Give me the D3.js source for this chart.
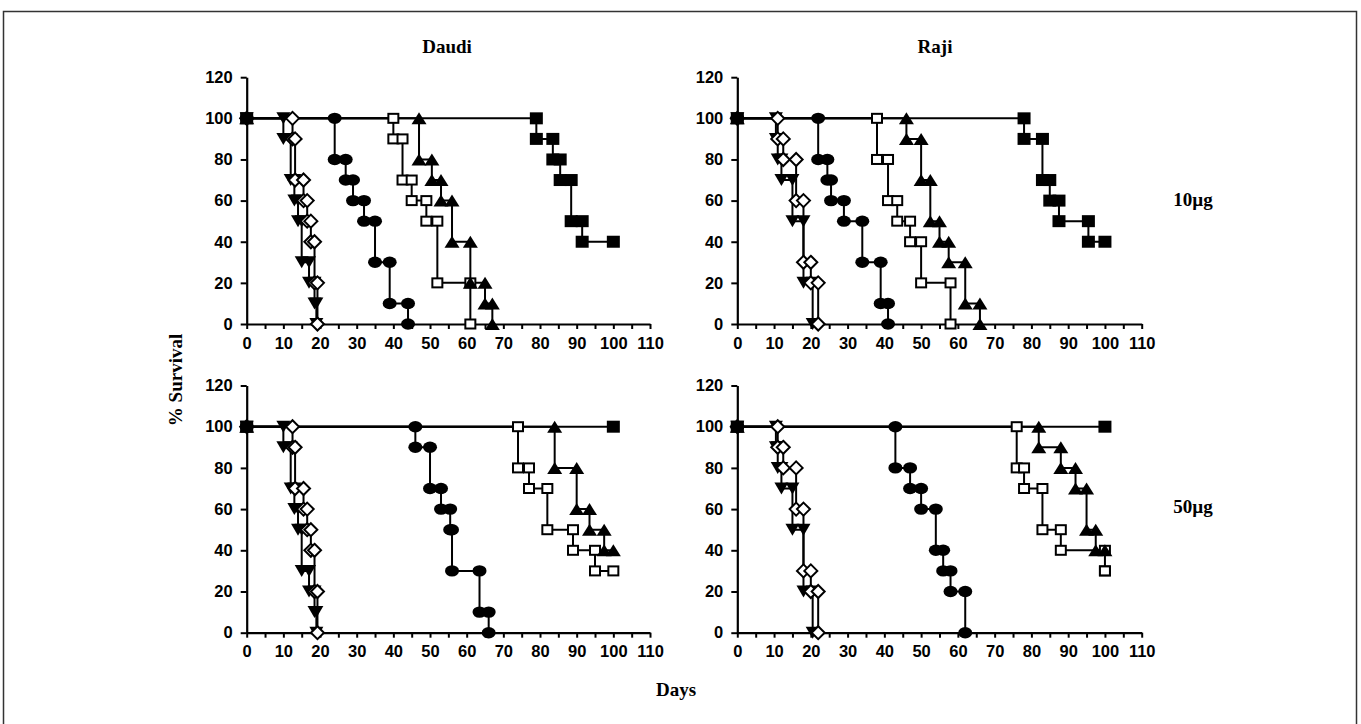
<!DOCTYPE html>
<html>
<head>
<meta charset="utf-8">
<script src="https://cdn.jsdelivr.net/npm/d3@7"></script>
<style>
  body { margin: 0; background: #fff; }
  .tick text { font-family: Arial, "Liberation Sans", sans-serif; font-weight: bold; font-size: 16.5px; fill: #000; }
  .lbl { font-family: "Times New Roman", "Liberation Serif", serif; font-weight: bold; font-size: 19px; fill: #000; }
</style>
</head>
<body>
<div id="chart"></div>
<script>
// ── DATA ────────────────────────────────────────────────────────────────
// each series: Kaplan-Meier steps as [day, % survival after the step]
const panelTitles = ["Daudi", "Raji"];
const doseLabels  = ["10µg", "50µg"];
const xTickValues = [0, 5, 10, 15, 20, 25, 30, 35, 40, 45, 50, 55, 60, 65, 70, 75, 80, 85, 90, 95, 100, 105, 110];
const xTickLabels = [0, 10, 20, 30, 40, 50, 60, 70, 80, 90, 100, 110];
const yTickLabels = [0, 20, 40, 60, 80, 100, 120];
const studyEnd = 100;

const daudi10DownTri  = [[10, 90], [12, 70], [13, 60], [14, 50], [15, 30], [17, 20], [18.5, 10], [19, 0]];
const daudi10Diamond  = [[12.5, 90], [13.2, 70], [15.5, 60], [16.5, 50], [17.5, 40], [18.5, 20], [19.3, 0]];
const daudi10Circle   = [[24, 80], [27, 70], [29, 60], [32, 50], [35, 30], [39, 10], [44, 0]];
const daudi10OpenSq   = [[40, 90], [42.5, 70], [45, 60], [49, 50], [52, 20], [61, 0]];
const daudi10UpTri    = [[47, 80], [50.5, 70], [53, 60], [56, 40], [61, 20], [65, 10], [67, 0]];
const daudi10FilledSq = [[79, 90], [83.5, 80], [85.5, 70], [88.5, 50], [91.5, 40]];

const raji10DownTri  = [[10.5, 90], [11, 80], [12, 70], [15, 50], [18, 20], [20.5, 0]];
const raji10Diamond  = [[11, 90], [12.5, 80], [16, 60], [18, 30], [20, 20], [22, 0]];
const raji10Circle   = [[22, 80], [24.5, 70], [25.5, 60], [29, 50], [34, 30], [39, 10], [41, 0]];
const raji10OpenSq   = [[38, 80], [41, 60], [43.5, 50], [47, 40], [50, 20], [58, 0]];
const raji10UpTri    = [[46, 90], [50, 70], [52.5, 50], [55, 40], [57.5, 30], [62, 10], [66, 0]];
const raji10FilledSq = [[78, 90], [83, 70], [85, 60], [87.5, 50], [95.5, 40]];

const daudi50DownTri  = [[10, 90], [12, 70], [13, 60], [14, 50], [15, 30], [17, 20], [18.5, 10], [19, 0]];
const daudi50Diamond  = [[12.5, 90], [13.2, 70], [15.5, 60], [16.5, 50], [17.5, 40], [18.5, 20], [19.3, 0]];
const daudi50Circle   = [[46, 90], [50, 70], [53, 60], [55.5, 50], [56, 30], [63.5, 10], [66, 0]];
const daudi50OpenSq   = [[74, 80], [77, 70], [82, 50], [89, 40], [95, 30]];
const daudi50UpTri    = [[84, 80], [90, 60], [93.5, 50], [97.5, 40]];
const daudi50FilledSq = [];

const raji50DownTri  = [[10.5, 90], [11, 80], [12, 70], [15, 50], [18, 20], [20.5, 0]];
const raji50Diamond  = [[11, 90], [12.5, 80], [16, 60], [18, 30], [20, 20], [22, 0]];
const raji50Circle   = [[43, 80], [47, 70], [50, 60], [54, 40], [56, 30], [58, 20], [62, 0]];
const raji50OpenSq   = [[76, 80], [78, 70], [83, 50], [88, 40], [100, 30]];
const raji50UpTri    = [[82, 90], [88, 80], [92, 70], [95, 50], [97.5, 40]];
const raji50FilledSq = [];

// ── LAYOUT ──────────────────────────────────────────────────────────────
const width = 1361, height = 724;
const xRanges = [[246.7, 650], [737.3, 1141.7]];
const yRanges = [[324, 77.2], [632.7, 385.5]];

const panels = [
  { col: 0, row: 0, series: [daudi10DownTri, daudi10Diamond, daudi10OpenSq, daudi10UpTri, daudi10FilledSq, daudi10Circle] },
  { col: 1, row: 0, series: [raji10DownTri, raji10Diamond, raji10OpenSq, raji10UpTri, raji10FilledSq, raji10Circle] },
  { col: 0, row: 1, series: [daudi50DownTri, daudi50Diamond, daudi50OpenSq, daudi50UpTri, daudi50FilledSq, daudi50Circle] },
  { col: 1, row: 1, series: [raji50DownTri, raji50Diamond, raji50OpenSq, raji50UpTri, raji50FilledSq, raji50Circle] }
];

// marker shapes, same order as panel.series
const markers = [
  g => g.append("path").attr("d", "M-7,-6L7,-6L0,6Z").attr("fill", "#000"),
  g => g.append("path").attr("d", "M0,-6.5L6.5,0L0,6.5L-6.5,0Z").attr("fill", "#fff").attr("stroke", "#000").attr("stroke-width", 2),
  g => g.append("rect").attr("x", -5).attr("y", -4.5).attr("width", 10).attr("height", 9).attr("fill", "#fff").attr("stroke", "#000").attr("stroke-width", 2),
  g => g.append("path").attr("d", "M-7.5,6L7.5,6L0,-6Z").attr("fill", "#000"),
  g => g.append("rect").attr("x", -6.5).attr("y", -6).attr("width", 13).attr("height", 12).attr("fill", "#000"),
  g => g.append("ellipse").attr("rx", 7).attr("ry", 5.7).attr("fill", "#000")
];

const svg = d3.select("#chart").append("svg")
  .attr("width", width).attr("height", height);

svg.append("rect")
  .attr("x", 3.5).attr("y", 11.5).attr("width", 1353).attr("height", 740)
  .attr("fill", "none").attr("stroke", "#333").attr("stroke-width", 1.5);

function kmPoints(events) {
  const pts = [[0, 100]];
  let prev = 100;
  events.forEach(([t, s]) => { pts.push([t, prev]); pts.push([t, s]); prev = s; });
  if (prev > 0) pts.push([studyEnd, prev]);
  return pts;
}

panels.forEach(p => {
  const x = d3.scaleLinear().domain([0, 110]).range(xRanges[p.col]);
  const y = d3.scaleLinear().domain([0, 120]).range(yRanges[p.row]);
  const g = svg.append("g");

  const xAxis = g.append("g")
    .attr("transform", `translate(0,${y(0)})`)
    .call(d3.axisBottom(x).tickValues(xTickValues).tickSize(5).tickSizeOuter(0).tickPadding(8)
      .tickFormat(d => xTickLabels.includes(d) ? d : ""));
  const yAxis = g.append("g")
    .attr("transform", `translate(${x(0)},0)`)
    .call(d3.axisLeft(y).tickValues(yTickLabels).tickSize(6).tickSizeOuter(0).tickPadding(8));
  [xAxis, yAxis].forEach(a => {
    a.select(".domain").attr("stroke", "#000").attr("stroke-width", 2.2);
    a.selectAll(".tick line").attr("stroke", "#000").attr("stroke-width", 2);
  });

  // step lines first, markers on top
  p.series.forEach(events => {
    const pts = kmPoints(events);
    const line = d3.line().x(d => x(d[0])).y(d => y(d[1]));
    g.append("path").attr("d", line(pts))
      .attr("fill", "none").attr("stroke", "#000").attr("stroke-width", 2);
  });
  p.series.forEach((events, i) => {
    kmPoints(events).forEach(d => {
      const m = g.append("g").attr("transform", `translate(${x(d[0])},${y(d[1])})`);
      markers[i](m);
    });
  });
});

// ── LABELS ──────────────────────────────────────────────────────────────
svg.append("text").attr("class", "lbl").attr("x", 447).attr("y", 53).attr("text-anchor", "middle").text(panelTitles[0]);
svg.append("text").attr("class", "lbl").attr("x", 935).attr("y", 53).attr("text-anchor", "middle").text(panelTitles[1]);
svg.append("text").attr("class", "lbl").attr("transform", "translate(182,380) rotate(-90)").attr("text-anchor", "middle").text("% Survival");
svg.append("text").attr("class", "lbl").attr("x", 676).attr("y", 696).attr("text-anchor", "middle").text("Days");
svg.append("text").attr("class", "lbl").attr("x", 1193).attr("y", 206).attr("text-anchor", "middle").text(doseLabels[0]);
svg.append("text").attr("class", "lbl").attr("x", 1193).attr("y", 513).attr("text-anchor", "middle").text(doseLabels[1]);
</script>
</body>
</html>
